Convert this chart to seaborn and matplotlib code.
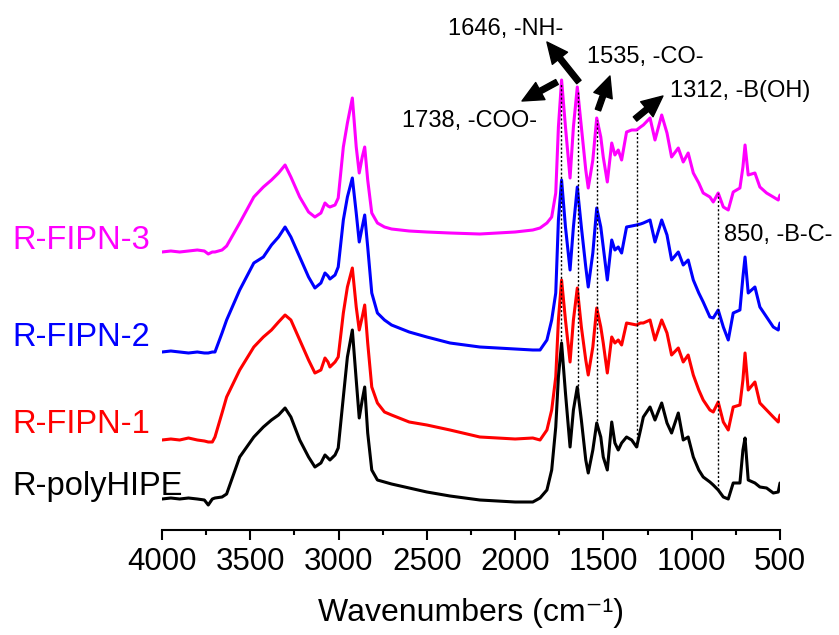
import numpy as np
import pandas as pd
import seaborn as sns
import matplotlib.pyplot as plt
from matplotlib.ticker import MultipleLocator

# wavenumbers (cm-1), shared by all four spectra
wavenumber = [4000, 3950, 3900, 3850, 3800, 3760, 3738, 3715, 3700, 3660,
              3634, 3560, 3480, 3426, 3380, 3340, 3303, 3270, 3220, 3170,
              3134, 3100, 3077, 3060, 3049, 3020, 3002, 2973, 2950, 2922,
              2900, 2883, 2866, 2852, 2835, 2812, 2780, 2740, 2700, 2600,
              2500, 2369, 2200, 2000, 1900, 1859, 1820, 1793, 1770, 1755,
              1737, 1715, 1689, 1670, 1648, 1625, 1600, 1586, 1560, 1538,
              1515, 1501, 1478, 1453, 1435, 1416, 1397, 1369, 1340, 1312,
              1290, 1274, 1236, 1208, 1170, 1140, 1114, 1076, 1048, 1020,
              991, 960, 935, 897, 878, 850, 821, 793, 765, 727,
              710, 698, 680, 642, 614, 576, 538, 510, 500]

# stacked (offset) transmittance, arbitrary units
fipn3 = [278, 279, 278, 279, 280, 279, 276, 278, 278, 280,
         284, 307, 333, 343, 350, 357, 365, 353, 333, 318,
         313, 317, 327, 324, 323, 325, 332, 383, 407, 432,
         383, 357, 373, 383, 350, 317, 307, 303, 301, 299,
         298, 297, 296, 298, 300, 302, 307, 313, 337, 403,
         450, 403, 352, 403, 443, 403, 360, 342, 370, 412,
         393, 373, 348, 387, 375, 380, 370, 398, 400, 400,
         403, 405, 412, 390, 415, 397, 373, 382, 368, 377,
         357, 347, 337, 333, 328, 337, 323, 320, 338, 342,
         363, 385, 355, 357, 343, 337, 333, 330, 335]

fipn2 = [178, 179, 178, 177, 178, 177, 177, 178, 178, 197,
         210, 240, 267, 273, 285, 293, 303, 293, 273, 253,
         242, 247, 257, 254, 251, 255, 263, 310, 333, 352,
         317, 288, 303, 315, 283, 237, 217, 210, 205, 198,
         193, 187, 183, 181, 180, 180, 190, 210, 237, 310,
         350, 303, 260, 303, 343, 303, 263, 243, 277, 322,
         303, 283, 250, 290, 280, 283, 277, 303, 304, 305,
         306, 307, 310, 288, 310, 295, 270, 278, 265, 270,
         250, 237, 228, 213, 212, 220, 203, 190, 217, 220,
         253, 273, 237, 243, 223, 213, 203, 200, 207]

fipn1 = [90, 91, 90, 92, 90, 89, 88, 88, 93, 117,
         133, 160, 183, 193, 200, 208, 215, 210, 190, 170,
         157, 160, 172, 168, 163, 168, 173, 217, 243, 262,
         223, 200, 213, 225, 187, 143, 127, 118, 115, 108,
         105, 100, 93, 91, 92, 90, 100, 120, 153, 210,
         250, 210, 168, 210, 242, 203, 170, 155, 183, 222,
         203, 187, 157, 193, 187, 190, 185, 207, 206, 205,
         207, 207, 210, 190, 210, 197, 175, 182, 168, 175,
         155, 140, 130, 120, 118, 128, 108, 100, 123, 125,
         150, 177, 140, 148, 127, 120, 113, 108, 115]

polyhipe = [31, 32, 31, 32, 31, 30, 25, 31, 32, 33,
            36, 73, 93, 103, 110, 115, 122, 113, 90, 73,
            63, 67, 75, 72, 70, 75, 82, 133, 173, 200,
            150, 112, 130, 143, 97, 60, 50, 48, 46, 42,
            38, 34, 30, 28, 28, 32, 40, 60, 103, 153,
            187, 137, 83, 120, 143, 110, 70, 57, 80, 107,
            93, 73, 60, 108, 87, 80, 87, 93, 90, 83,
            100, 113, 123, 110, 127, 107, 97, 117, 90, 93,
            73, 60, 53, 48, 45, 40, 33, 31, 47, 47,
            80, 92, 50, 47, 43, 42, 37, 38, 47]

names = ['R-FIPN-3', 'R-FIPN-2', 'R-FIPN-1', 'R-polyHIPE']
colors = ['#FF00FF', '#0000FF', '#FF0000', '#000000']
label_y = [281, 184, 97, 35]

# marked bands
band_pos = [1738, 1646, 1535, 1312, 850]
band_text = ['1738, -COO-', '1646, -NH-', '1535, -CO-', '1312, -B(OH)', '850, -B-C-']
text_xy = [(2641, 403), (2380, 495), (1593, 467), (1123, 433), (817, 289)]
arrow_tail = [(1763, 448), (1639, 448), (1531, 420), (1321, 411)]
arrow_head = [(1961, 429), (1820, 488), (1463, 454), (1163, 434)]

sns.set_style('white')
plt.rcParams['font.family'] = ['Liberation Sans', 'DejaVu Sans']
plt.rcParams['text.color'] = 'black'
plt.rcParams['axes.labelcolor'] = 'black'
plt.rcParams['xtick.color'] = 'black'

fig = plt.figure(figsize=(8.39, 6.35), dpi=100)
ax = fig.add_axes([162 / 839, 105 / 635, 618 / 839, 530 / 635])

spectra = [fipn3, fipn2, fipn1, polyhipe]
for name, vals, col in zip(names, spectra, colors):
    df = pd.DataFrame({'w': wavenumber, 't': vals})
    sns.lineplot(data=df, x='w', y='t', color=col, lw=2.2, estimator=None, ax=ax)

for name, col, ly in zip(names, colors, label_y):
    ax.text(4845, ly, name, color=col, fontsize=23.5, ha='left', va='baseline', clip_on=False)

# dotted guide lines from top spectrum down to bottom spectrum
w_asc = wavenumber[::-1]
for b in band_pos:
    top = np.interp(b, w_asc, fipn3[::-1])
    bot = np.interp(b, w_asc, polyhipe[::-1])
    ax.plot([b, b], [bot, top], color='black', lw=1, ls=(0, (1.5, 1.5)))

for t, (tx, ty) in zip(band_text, text_xy):
    ax.text(tx, ty, t, fontsize=17, ha='left', va='baseline', clip_on=False)

for tail, head in zip(arrow_tail, arrow_head):
    ax.annotate('', xy=head, xytext=tail,
                arrowprops=dict(arrowstyle='simple,head_length=0.75,head_width=0.7,tail_width=0.2',
                                color='black', shrinkA=0, shrinkB=0, mutation_scale=20))

ax.set_xlim(4000, 500)
ax.set_ylim(0, 530)
ax.xaxis.set_major_locator(MultipleLocator(500))
ax.xaxis.set_minor_locator(MultipleLocator(250))
ax.tick_params(axis='x', which='major', direction='out', length=7, width=1.5,
               labelsize=22.5, pad=5, bottom=True, colors='black')
ax.tick_params(axis='x', which='minor', direction='out', length=3.5, width=1.5, bottom=True)
ax.set_yticks([])
ax.set_ylabel('')
ax.set_xlabel('Wavenumbers (cm\u207b\u00b9)', fontsize=23, labelpad=15)
for s in ['top', 'left', 'right']:
    ax.spines[s].set_visible(False)
ax.spines['bottom'].set_linewidth(1.5)
ax.spines['bottom'].set_color('black')

fig.savefig('out.png', dpi=100)
